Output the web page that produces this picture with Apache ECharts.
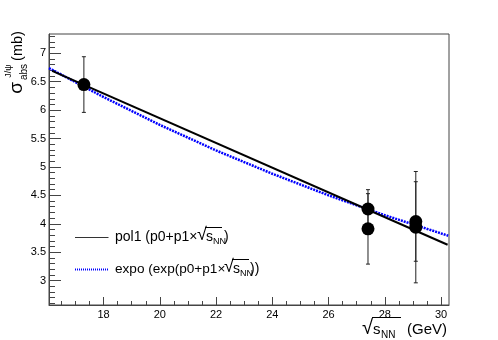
<!DOCTYPE html>
<html>
<head>
<meta charset="utf-8">
<script src="https://cdn.jsdelivr.net/npm/echarts@6/dist/echarts.min.js"></script>
<style>html,body{margin:0;padding:0;background:#fff;}#c{width:498px;height:340px;}</style>
</head>
<body>
<div id="c"></div>
<script>
// ---- data ----
const pointX = [17.3, 27.4, 27.4, 29.1, 29.1];
const pointY = [6.45, 4.26, 3.91, 4.04, 3.94];
const pointErr = [0.49, 0.34, 0.62, 0.70, 0.98];

const pol1X = [16.17, 30.23];
const pol1Y = [6.69, 3.63];

const expoX = [16.06, 18, 20, 22, 24, 26, 28, 30.25];
const expoY = [6.74, 6.23, 5.74, 5.29, 4.88, 4.50, 4.15, 3.79];

const xMajorTicks = [18, 20, 22, 24, 26, 28, 30];
const yMajorTicks = [3, 3.5, 4, 4.5, 5, 5.5, 6, 6.5, 7];

// axis-tick helper lists (minor ticks)
const xMinorTicks = [];
for (let v = 16.5; v <= 30.01; v += 0.5) xMinorTicks.push(+v.toFixed(2));
const yMinorTicks = [];
for (let v = 2.6; v <= 7.31; v += 0.1) yMinorTicks.push(+v.toFixed(2));

const X_MIN = 16.06, X_MAX = 30.28, Y_MIN = 2.57, Y_MAX = 7.34;
const FONT = '"Liberation Sans", Arial, sans-serif';
const AXC = '#444';

const chart = echarts.init(document.getElementById('c'), null, {renderer: 'canvas'});

function txt(x, y, s, size, opts) {
  return Object.assign({
    type: 'text', x: x, y: y, silent: true,
    style: Object.assign({text: s, font: size + 'px ' + FONT, fill: '#000',
      textAlign: 'left', textVerticalAlign: 'middle'}, (opts && opts.style) || {})
  }, (opts && opts.el) || {});
}
function hline(x1, x2, y, color, w, dash) {
  return {type: 'line', silent: true, shape: {x1: x1, y1: y, x2: x2, y2: y},
    style: {stroke: color, lineWidth: w, lineDash: dash || null}};
}

const rot = {el: {rotation: Math.PI / 2}, style: {textAlign: 'center'}};

const graphics = [
  // y-axis title: sigma^{J/psi}_{abs} (mb)
  txt(17, 88, 'σ', 19, rot),
  txt(9, 71, 'J/ψ', 9, rot),
  txt(24, 72, 'abs', 10, rot),
  txt(18, 46, '(mb)', 14.5, rot),
  // x-axis title: sqrt(s_NN) (GeV)
  txt(362, 328, '√', 20),
  hline(372, 401, 317.5, '#000', 1),
  txt(373, 330, 's', 15),
  txt(381, 335, 'NN', 10),
  txt(407, 330, '(GeV)', 15),
  // legend row 1
  hline(75, 108.5, 237.5, '#333', 1),
  txt(115, 237, 'pol1 (p0+p1×', 14),
  txt(197, 235, '√', 18),
  hline(205, 222, 227.5, '#000', 1),
  txt(206, 237, 's', 14),
  txt(213, 242, 'NN', 9),
  txt(224, 237, ')', 14),
  // legend row 2
  hline(75, 108.5, 269.5, '#0000ff', 2, [1, 1]),
  txt(115, 269, 'expo (exp(p0+p1×', 13.6),
  txt(224, 267, '√', 18),
  hline(232, 249, 259.5, '#000', 1),
  txt(233, 269, 's', 14),
  txt(240, 274, 'NN', 9),
  txt(250, 269, '))', 14)
];

const option = {
  animation: false,
  backgroundColor: '#fff',
  grid: {left: 49, right: 49, top: 34, bottom: 35, show: true, borderColor: AXC, borderWidth: 1, containLabel: false},
  xAxis: [
    {type: 'value', min: X_MIN, max: X_MAX, position: 'bottom',
      axisLine: {show: true, lineStyle: {color: AXC, width: 1}},
      axisTick: {show: true, inside: true, length: 8, customValues: xMajorTicks, lineStyle: {color: AXC}},
      axisLabel: {show: true, customValues: xMajorTicks, margin: 4, color: '#000', fontSize: 11, fontFamily: FONT},
      splitLine: {show: false}},
    {type: 'value', min: X_MIN, max: X_MAX, position: 'bottom',
      axisLine: {show: false},
      axisTick: {show: true, inside: true, length: 4, customValues: xMinorTicks, lineStyle: {color: AXC}},
      axisLabel: {show: false}, splitLine: {show: false}}
  ],
  yAxis: [
    {type: 'value', min: Y_MIN, max: Y_MAX, position: 'left',
      axisLine: {show: true, lineStyle: {color: AXC, width: 1}},
      axisTick: {show: true, inside: true, length: 12, customValues: yMajorTicks, lineStyle: {color: AXC}},
      axisLabel: {show: true, customValues: yMajorTicks, margin: 3, color: '#000', fontSize: 11, fontFamily: FONT,
        formatter: v => String(+v.toFixed(1))},
      splitLine: {show: false}},
    {type: 'value', min: Y_MIN, max: Y_MAX, position: 'left',
      axisLine: {show: false},
      axisTick: {show: true, inside: true, length: 6, customValues: yMinorTicks, lineStyle: {color: AXC}},
      axisLabel: {show: false}, splitLine: {show: false}}
  ],
  series: [
    {type: 'line', name: 'expo', xAxisIndex: 0, yAxisIndex: 0, showSymbol: false, silent: true,
      data: expoX.map((x, i) => [x, expoY[i]]),
      lineStyle: {color: '#0000ff', width: 2.5, type: [2, 1]}, z: 2},
    {type: 'line', name: 'pol1', xAxisIndex: 0, yAxisIndex: 0, showSymbol: false, silent: true,
      data: pol1X.map((x, i) => [x, pol1Y[i]]),
      lineStyle: {color: '#000', width: 2}, z: 3},
    {type: 'custom', name: 'errors', xAxisIndex: 0, yAxisIndex: 0, silent: true, z: 4,
      data: pointX.map((x, i) => [x, pointY[i], pointErr[i]]),
      encode: {x: 0, y: 1},
      renderItem: function (params, api) {
        const x = api.value(0), y = api.value(1), e = api.value(2);
        const t = api.coord([x, y + e]), b = api.coord([x, y - e]);
        const w = 2, st = {stroke: '#222', lineWidth: 1};
        return {type: 'group', children: [
          {type: 'line', shape: {x1: t[0], y1: t[1], x2: b[0], y2: b[1]}, style: st},
          {type: 'line', shape: {x1: t[0] - w, y1: t[1], x2: t[0] + w, y2: t[1]}, style: st},
          {type: 'line', shape: {x1: b[0] - w, y1: b[1], x2: b[0] + w, y2: b[1]}, style: st}
        ]};
      }},
    {type: 'scatter', name: 'data', xAxisIndex: 0, yAxisIndex: 0, silent: true, z: 5,
      symbol: 'circle', symbolSize: 13,
      data: pointX.map((x, i) => [x, pointY[i]]),
      itemStyle: {color: '#000', opacity: 1}}
  ],
  graphic: graphics
};
chart.setOption(option);
</script>
</body>
</html>
